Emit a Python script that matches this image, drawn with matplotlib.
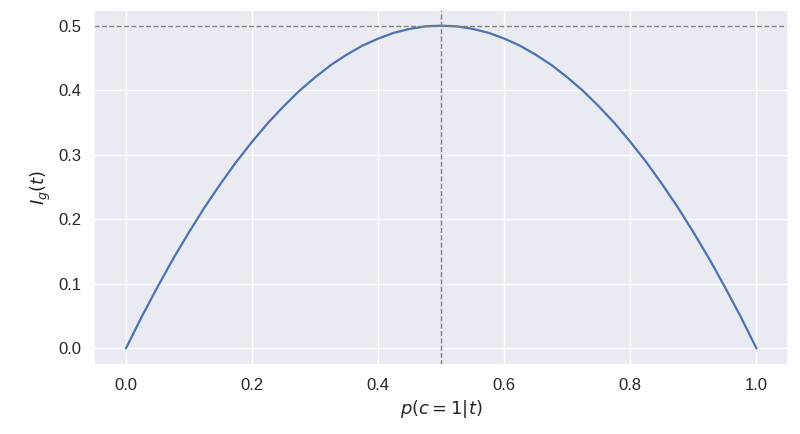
import matplotlib
matplotlib.use("Agg")
import matplotlib.pyplot as plt
import seaborn as sns

sns.set_theme(style="darkgrid")
plt.rcParams['font.family'] = ['Liberation Sans', 'DejaVu Sans']

p = [0.0, 0.025, 0.05, 0.075, 0.1, 0.125, 0.15, 0.175, 0.2, 0.225, 0.25,
     0.275, 0.3, 0.325, 0.35, 0.375, 0.4, 0.425, 0.45, 0.475, 0.5,
     0.525, 0.55, 0.575, 0.6, 0.625, 0.65, 0.675, 0.7, 0.725, 0.75,
     0.775, 0.8, 0.825, 0.85, 0.875, 0.9, 0.925, 0.95, 0.975, 1.0]
gini = [0.0, 0.049, 0.095, 0.139, 0.18, 0.219, 0.255, 0.289, 0.32, 0.349, 0.375,
        0.399, 0.42, 0.439, 0.455, 0.469, 0.48, 0.489, 0.495, 0.499, 0.5,
        0.499, 0.495, 0.489, 0.48, 0.469, 0.455, 0.439, 0.42, 0.399, 0.375,
        0.349, 0.32, 0.289, 0.255, 0.219, 0.18, 0.139, 0.095, 0.049, 0.0]

fig, ax = plt.subplots(figsize=(8, 4.34), dpi=100)
ax.plot(p, gini, color="#4c72b0", lw=1.6)
ax.axhline(0.5, color="gray", ls="--", lw=1)
ax.axvline(0.5, color="gray", ls="--", lw=1)
ax.tick_params(labelsize=12)
ax.set_xlabel(r"$p(c=1|t)$", fontsize=13)
ax.set_ylabel(r"$I_g(t)$", fontsize=13)
fig.subplots_adjust(left=0.118, right=0.985, top=0.978, bottom=0.16)
fig.savefig("out.png")
